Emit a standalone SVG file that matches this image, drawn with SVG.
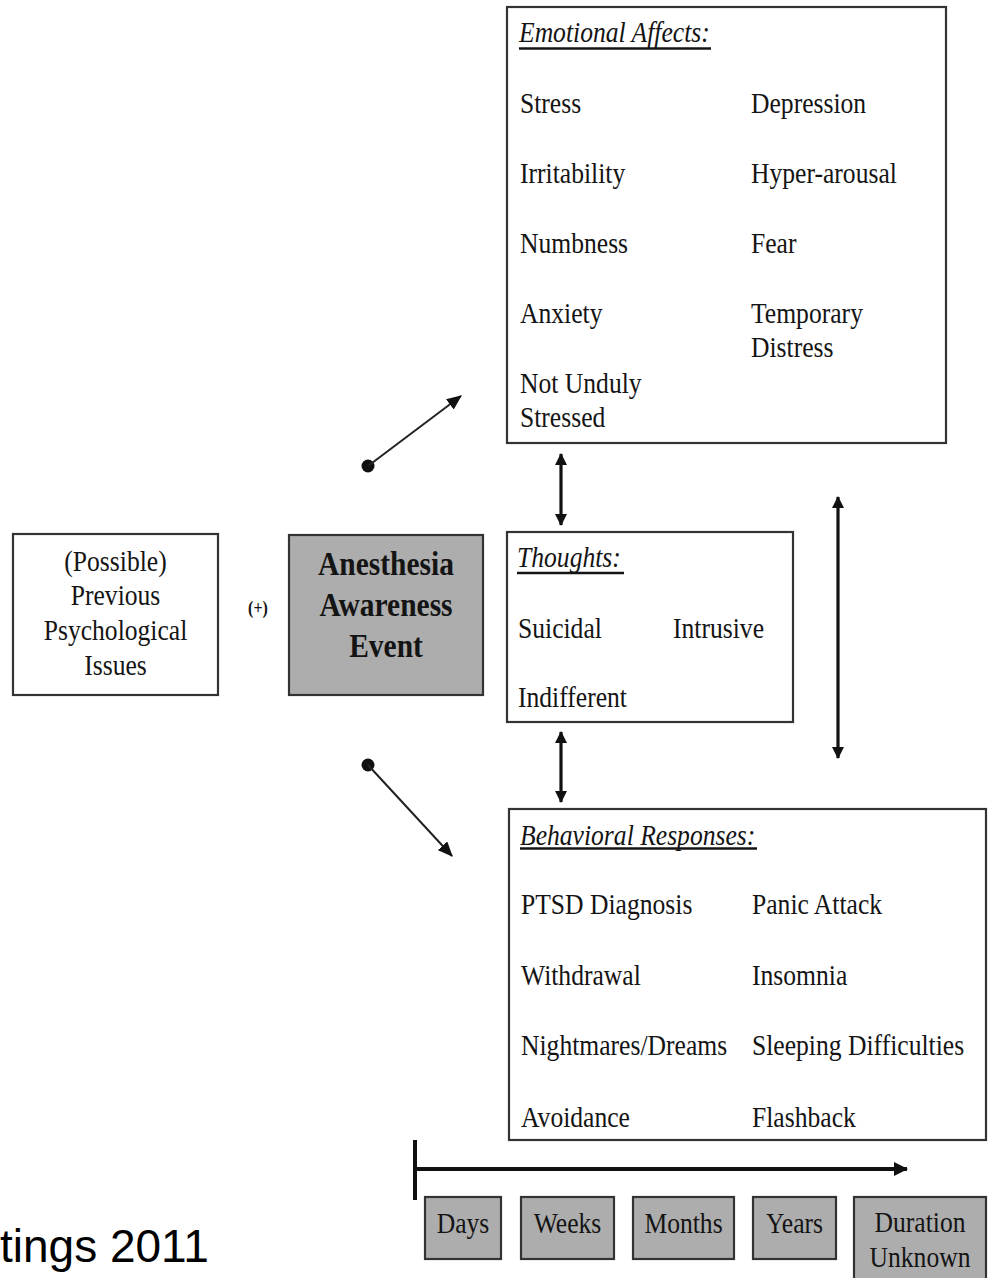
<svg xmlns="http://www.w3.org/2000/svg" width="991" height="1278" viewBox="0 0 991 1278">
<style>
.box{fill:#fff;stroke:#333;stroke-width:2.2}
.gbox{fill:#adadad;stroke:#333;stroke-width:2.2}
.t{font-family:"Liberation Serif","Times New Roman",serif;font-size:25.6px;fill:#141414}
.ti{font-family:"Liberation Serif","Times New Roman",serif;font-size:25.6px;font-style:italic;fill:#141414}
.tb{font-family:"Liberation Serif","Times New Roman",serif;font-size:29.5px;font-weight:bold;fill:#141414}
.c{text-anchor:middle}
.ul{stroke:#141414;stroke-width:2.6}
.thin{stroke:#222;stroke-width:2;fill:none}
.thick{stroke:#111;stroke-width:3.2;fill:none}
.tl{stroke:#111;stroke-width:4;fill:none}
</style>
<defs>
<marker id="ah" viewBox="0 0 14 12" refX="13" refY="6" markerWidth="15" markerHeight="13" markerUnits="userSpaceOnUse" orient="auto-start-reverse"><path d="M0,0 L14,6 L0,12 z" fill="#111"/></marker>
<marker id="ah2" viewBox="0 0 12 12" refX="11" refY="6" markerWidth="12" markerHeight="12" markerUnits="userSpaceOnUse" orient="auto-start-reverse"><path d="M0,0 L12,6 L0,12 z" fill="#111"/></marker>
<marker id="ah3" viewBox="0 0 14 14" refX="13" refY="7" markerWidth="14" markerHeight="14" markerUnits="userSpaceOnUse" orient="auto-start-reverse"><path d="M0,0 L14,7 L0,14 z" fill="#111"/></marker>
</defs>

<g id="prev">
<rect class="box" x="13" y="534" width="205" height="161"/>
<text class="t c" transform="translate(115.5,571) scale(1,1.17)">(Possible)</text>
<text class="t c" transform="translate(115.5,605) scale(1,1.17)">Previous</text>
<text class="t c" transform="translate(115.5,640) scale(1,1.17)">Psychological</text>
<text class="t c" transform="translate(115.5,675) scale(1,1.17)">Issues</text>
</g>

<g id="plus">
<text class="c" font-family="Liberation Serif, serif" font-weight="bold" font-size="16" fill="#141414" transform="translate(258,614) scale(1,1.17)">(+)</text>
</g>

<g id="event">
<rect class="gbox" x="289" y="535" width="194" height="160"/>
<text class="tb c" transform="translate(386,575) scale(1,1.15)">Anesthesia</text>
<text class="tb c" transform="translate(386,616) scale(1,1.15)">Awareness</text>
<text class="tb c" transform="translate(386,657) scale(1,1.15)">Event</text>
</g>

<g id="emotional">
<rect class="box" x="507" y="7" width="439" height="436"/>
<text class="ti" transform="translate(519,42) scale(1,1.17)">Emotional Affects:</text>
<line class="ul" x1="519" y1="48.5" x2="711" y2="48.5"/>
<text class="t" transform="translate(520,113) scale(1,1.17)">Stress</text>
<text class="t" transform="translate(751,113) scale(1,1.17)">Depression</text>
<text class="t" transform="translate(520,183) scale(1,1.17)">Irritability</text>
<text class="t" transform="translate(751,183) scale(1,1.17)">Hyper-arousal</text>
<text class="t" transform="translate(520,253) scale(1,1.17)">Numbness</text>
<text class="t" transform="translate(751,253) scale(1,1.17)">Fear</text>
<text class="t" transform="translate(520,323) scale(1,1.17)">Anxiety</text>
<text class="t" transform="translate(751,323) scale(1,1.17)">Temporary</text>
<text class="t" transform="translate(751,357) scale(1,1.17)">Distress</text>
<text class="t" transform="translate(520,393) scale(1,1.17)">Not Unduly</text>
<text class="t" transform="translate(520,427) scale(1,1.17)">Stressed</text>
</g>

<g id="thoughts">
<rect class="box" x="507" y="532" width="286" height="190"/>
<text class="ti" transform="translate(517,567) scale(1,1.17)">Thoughts:</text>
<line class="ul" x1="517" y1="573" x2="624" y2="573"/>
<text class="t" transform="translate(518,638) scale(1,1.17)">Suicidal</text>
<text class="t" transform="translate(673,638) scale(1,1.17)">Intrusive</text>
<text class="t" transform="translate(518,707) scale(1,1.17)">Indifferent</text>
</g>

<g id="behavioral">
<rect class="box" x="509" y="809" width="477" height="331"/>
<text class="ti" transform="translate(520,845) scale(1,1.17)">Behavioral Responses:</text>
<line class="ul" x1="520" y1="848.5" x2="757" y2="848.5"/>
<text class="t" transform="translate(521,914) scale(1,1.17)">PTSD Diagnosis</text>
<text class="t" transform="translate(752,914) scale(1,1.17)">Panic Attack</text>
<text class="t" transform="translate(521,985) scale(1,1.17)">Withdrawal</text>
<text class="t" transform="translate(752,985) scale(1,1.17)">Insomnia</text>
<text class="t" transform="translate(521,1055) scale(1,1.17)">Nightmares/Dreams</text>
<text class="t" transform="translate(752,1055) scale(1,1.17)">Sleeping Difficulties</text>
<text class="t" transform="translate(521,1127) scale(1,1.17)">Avoidance</text>
<text class="t" transform="translate(752,1127) scale(1,1.17)">Flashback</text>
</g>

<g id="days">
<rect class="gbox" x="425" y="1197" width="76" height="62"/>
<text class="t c" transform="translate(463,1233) scale(1,1.17)">Days</text>
</g>
<g id="weeks">
<rect class="gbox" x="521" y="1197" width="93" height="62"/>
<text class="t c" transform="translate(567.5,1233) scale(1,1.17)">Weeks</text>
</g>
<g id="months">
<rect class="gbox" x="633" y="1197" width="101" height="62"/>
<text class="t c" transform="translate(683.5,1233) scale(1,1.17)">Months</text>
</g>
<g id="years">
<rect class="gbox" x="753" y="1197" width="83" height="62"/>
<text class="t c" transform="translate(794.5,1233) scale(1,1.17)">Years</text>
</g>
<g id="duration">
<rect class="gbox" x="854" y="1197" width="132" height="90"/>
<text class="t c" transform="translate(920,1232) scale(1,1.17)">Duration</text>
<text class="t c" transform="translate(920,1267) scale(1,1.17)">Unknown</text>
</g>

<g id="connectors">
<circle cx="368" cy="466" r="6.5" fill="#111"/>
<line class="thin" x1="368" y1="466" x2="461" y2="396" marker-end="url(#ah)"/>
<circle cx="368" cy="765" r="6.5" fill="#111"/>
<line class="thin" x1="368" y1="765" x2="452" y2="856" marker-end="url(#ah)"/>
<line class="thick" x1="561" y1="454" x2="561" y2="525" marker-start="url(#ah2)" marker-end="url(#ah2)"/>
<line class="thick" x1="561" y1="732" x2="561" y2="802" marker-start="url(#ah2)" marker-end="url(#ah2)"/>
<line class="thick" x1="838" y1="497" x2="838" y2="758" marker-start="url(#ah2)" marker-end="url(#ah2)"/>
<line class="tl" x1="415" y1="1140" x2="415" y2="1200"/>
<line class="tl" x1="413" y1="1169" x2="907" y2="1169" marker-end="url(#ah3)"/>
</g>

<text font-family="Liberation Sans, Arial, sans-serif" font-size="46" fill="#000" x="0" y="1262">tings 2011</text>
</svg>
